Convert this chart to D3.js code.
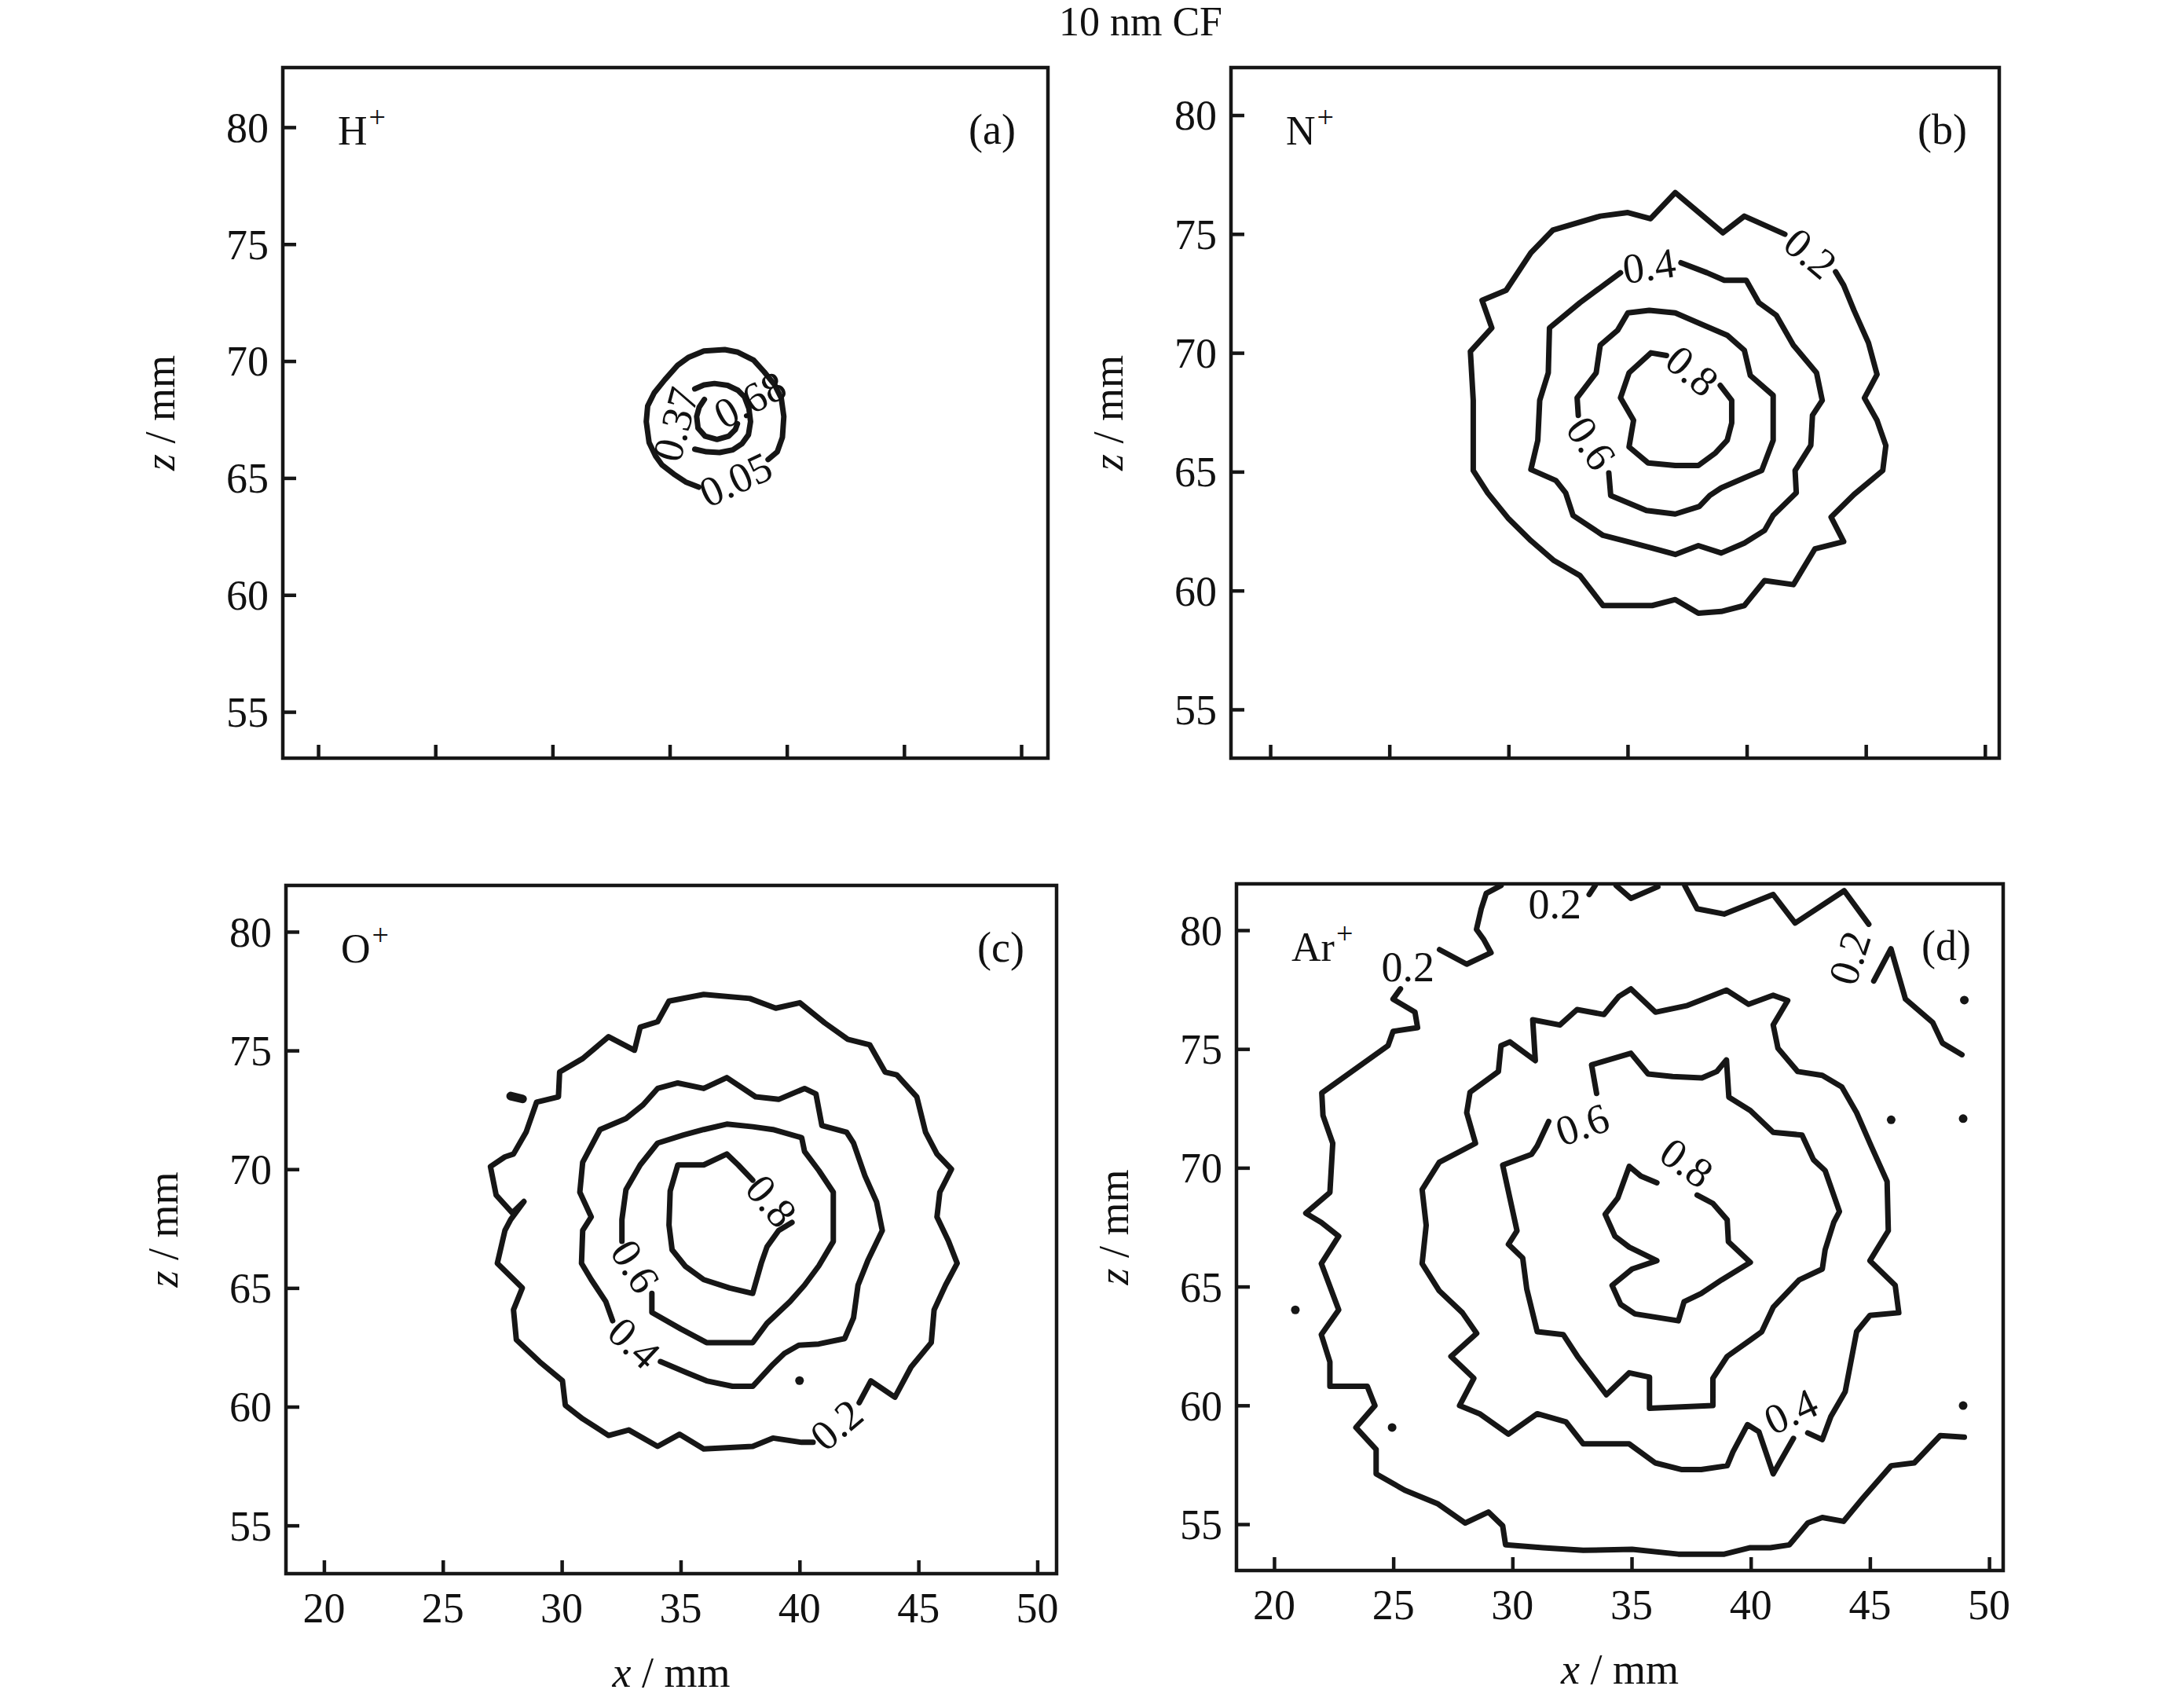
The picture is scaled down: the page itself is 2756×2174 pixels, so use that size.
<!DOCTYPE html>
<html><head><meta charset="utf-8">
<script src="https://cdn.jsdelivr.net/npm/d3@7"></script>
<style>
body{margin:0;background:#fff}
text{font-family:"Liberation Serif","Times New Roman",serif;fill:#111}
</style>
</head><body>
<svg id="chart" width="2756" height="2174" xmlns="http://www.w3.org/2000/svg"></svg>
<script>
// ---------------- data ----------------
const title = "10 nm CF";
const xTicks = [20, 25, 30, 35, 40, 45, 50];
const yTicks = [55, 60, 65, 70, 75, 80];
const ions = [["H", "(a)"], ["N", "(b)"], ["O", "(c)"], ["Ar", "(d)"]];

// (a) H+
const H_005 = [[39.20,65.79],[39.59,66.12],[39.81,66.74],[39.87,67.63],[39.76,68.42],[39.48,68.98],[39.03,69.54],[38.58,70.04],[37.91,70.38],[37.35,70.49],[36.46,70.43],[35.79,70.15],[35.34,69.82],[34.79,69.20],[34.34,68.64],[34.06,68.08],[34.00,67.41],[34.12,66.52],[34.39,65.95],[34.67,65.56],[35.17,65.17],[35.68,64.83],[36.24,64.61]];
const H_037 = [[36.07,68.81],[36.46,68.98],[36.91,69.04],[37.47,68.96],[37.91,68.75],[38.19,68.47],[38.38,67.97],[38.45,67.41],[38.36,66.85],[38.08,66.46],[37.69,66.20],[37.13,66.09],[36.57,66.12],[36.07,66.23]];
const H_068 = [[36.48,68.36],[36.26,68.03],[36.15,67.63],[36.21,67.13],[36.51,66.79],[37.02,66.65],[37.52,66.79],[37.80,67.07],[37.89,67.32]];
const H_labels = [["0.05",37.80,64.95,-25],["0.37",35.23,67.30,-75],["0.68",38.41,68.36,-28]];

// (b) N+
const N_02 = [[41.6,74.99],[39.90,75.75],[39.0,75.05],[37.0,76.74],[35.96,75.64],[35.01,75.9],[33.85,75.75],[31.86,75.16],[30.94,74.21],[29.9,72.63],[28.89,72.21],[29.30,71.05],[28.40,70.06],[28.52,68.0],[28.52,65.05],[29.13,64.1],[29.98,63.05],[30.94,62.1],[31.91,61.26],[33.0,60.63],[33.97,59.37],[36.03,59.37],[37.0,59.62],[37.97,59.05],[38.93,59.12],[39.9,59.37],[40.75,60.42],[41.96,60.25],[42.86,61.75],[44.07,62.06],[43.54,63.09],[44.5,64.04],[45.71,65.05],[45.84,66.1],[45.47,67.16],[44.94,68.1],[45.47,69.09],[45.11,70.42],[44.5,71.79],[44.07,72.84],[43.73,73.41]];
const N_04 = [[37.24,73.79],[38.33,73.37],[39.06,73.05],[39.98,73.05],[40.51,72.11],[41.24,71.58],[41.96,70.32],[42.93,69.16],[43.17,68.0],[42.76,67.37],[42.69,66.11],[42.03,65.05],[42.08,64.11],[41.11,63.16],[40.75,62.53],[39.90,62.0],[38.93,61.58],[37.97,61.89],[37.0,61.52],[36.03,61.79],[35.06,62.04],[33.97,62.32],[32.71,63.16],[32.40,64.11],[31.99,64.63],[30.94,65.09],[31.23,66.32],[31.31,68.0],[31.67,69.16],[31.72,71.05],[33.0,72.11],[33.85,72.74],[34.70,73.37]];
const N_06 = [[34.21,64.95],[34.29,64.0],[35.79,63.37],[37.0,63.22],[38.01,63.54],[38.45,64.0],[38.93,64.32],[39.90,64.74],[40.63,65.05],[41.11,66.32],[41.11,68.21],[40.15,69.05],[39.90,70.11],[39.18,70.74],[37.97,71.26],[37.0,71.68],[35.91,71.79],[35.01,71.68],[34.58,70.95],[33.85,70.32],[33.68,69.16],[32.88,68.11],[32.93,67.37]];
const N_08 = [[38.89,68.63],[39.37,68.0],[39.37,67.05],[39.18,66.32],[38.69,65.79],[37.97,65.26],[37.0,65.26],[35.86,65.37],[35.06,66.04],[35.25,67.16],[34.70,68.11],[35.06,69.16],[35.98,70.0],[36.63,69.89]];
const N_labels = [["0.2",42.69,74.2,40],["0.4",35.9,73.68,-8],["0.6",33.49,66.21,56],["0.8",37.72,69.26,40]];

// (c) O+
const O_02 = [[42.51,60.17],[43.0,61.09],[44.01,60.40],[44.69,61.67],[45.54,62.70],[45.66,64.08],[46.14,65.12],[46.63,66.04],[46.27,66.96],[45.78,67.99],[45.90,69.03],[46.39,70.0],[45.78,70.64],[45.30,71.56],[44.93,73.05],[44.09,73.97],[43.60,74.09],[42.95,75.24],[42.03,75.47],[41.06,76.16],[40.01,77.01],[39.0,76.78],[37.91,77.19],[35.97,77.36],[34.51,77.08],[34.03,76.21],[33.30,75.98],[33.06,75.01],[31.97,75.58],[30.88,74.66],[29.91,74.09],[29.86,73.05],[28.94,72.82],[28.50,71.56],[27.97,70.64],[27.61,70.52],[27.0,70.11],[27.24,68.91],[27.92,68.16],[28.41,68.64],[27.85,67.88],[27.61,67.42],[27.29,66.04],[28.34,65.0],[27.97,64.08],[28.09,62.82],[29.06,61.90],[30.03,61.09],[30.15,60.06],[30.88,59.49],[31.97,58.79],[32.82,59.02],[34.03,58.33],[34.95,58.84],[35.97,58.22],[38.03,58.33],[38.88,58.68],[40.09,58.50],[40.57,58.50]];
const O_02_bits = [[[27.85,73.08],[28.35,72.96]]];
const O_04 = [[34.15,61.9],[35.24,61.44],[36.09,61.09],[37.18,60.86],[38.03,60.86],[38.88,61.78],[39.36,62.24],[39.97,62.59],[40.81,62.64],[41.90,62.87],[42.27,63.74],[42.46,65.12],[42.87,66.15],[43.48,67.42],[43.24,68.62],[42.75,69.72],[42.27,71.10],[41.98,71.56],[40.94,71.84],[40.69,73.17],[40.21,73.40],[39.12,72.94],[38.15,73.05],[36.94,73.86],[35.97,73.40],[34.88,73.63],[34.03,73.40],[33.42,72.71],[32.70,72.13],[31.61,71.67],[30.88,70.29],[30.76,69.03],[31.24,67.99],[30.88,67.42],[30.83,66.04],[31.24,65.35],[31.85,64.43],[32.14,63.62]];
const O_06 = [[33.79,64.77],[33.79,63.97],[35.0,63.28],[36.09,62.70],[38.03,62.70],[38.63,63.51],[39.60,64.43],[40.21,65.12],[40.81,65.93],[41.42,66.96],[41.42,69.03],[40.81,69.95],[40.21,70.75],[40.09,71.33],[38.88,71.67],[38.03,71.79],[36.94,71.90],[35.97,71.67],[35.12,71.44],[34.03,71.10],[33.30,70.18],[32.70,69.14],[32.53,67.88],[32.53,66.96]];
const O_08 = [[39.68,67.76],[39.12,67.42],[38.63,66.73],[38.39,66.04],[38.03,64.77],[37.06,65.0],[35.97,65.35],[35.19,65.92],[34.64,66.61],[34.51,67.65],[34.56,69.08],[34.88,70.18],[35.97,70.18],[36.94,70.64],[37.42,70.18],[38.03,69.54]];
const O_dots = [[40.0,61.1]];
const O_labels = [["0.2",41.54,59.25,-40],["0.4",33.06,62.70,43],["0.6",33.11,65.92,58],["0.8",38.83,68.68,50]];

// (d) Ar+
const Ar_02a = [[29.52,81.88],[28.90,81.55],[28.69,80.90],[28.49,80.03],[28.80,79.60],[29.10,79.05],[28.08,78.57],[26.94,79.18]];
const Ar_02b = [[25.30,77.53],[24.99,77.10],[25.91,76.55],[26.02,75.90],[24.99,75.74],[24.78,75.14],[22.0,73.15],[22.05,72.2],[22.46,71.03],[22.34,68.96],[21.33,68.09],[21.98,67.70],[22.71,67.12],[21.98,65.97],[22.71,64.02],[21.98,62.98],[22.34,61.83],[22.34,60.80],[23.91,60.80],[24.23,59.99],[23.43,59.07],[24.28,58.15],[24.28,57.12],[25.48,56.43],[26.88,55.85],[28.02,55.05],[28.99,55.51],[29.59,54.93],[29.71,54.13],[31.28,54.01],[32.97,53.90],[35.02,53.94],[36.96,53.74],[38.89,53.74],[39.98,54.01],[40.82,54.01],[41.62,54.13],[42.39,55.05],[43.0,55.28],[43.89,55.12],[44.69,56.08],[45.89,57.46],[46.86,57.58],[47.95,58.73],[48.96,58.66]];
const Ar_02c = [[33.22,81.50],[33.47,81.88]];
const Ar_02d = [[34.35,81.88],[34.97,81.34],[36.10,81.83]];
const Ar_02e = [[37.23,81.88],[37.75,80.90],[38.88,80.68],[40.94,81.50],[41.86,80.30],[43.92,81.66],[44.95,80.25]];
const Ar_02f = [[45.16,77.86],[45.88,79.22],[46.49,77.10],[47.63,76.12],[48.04,75.25],[48.86,74.76]];
const Ar_04 = [[41.79,58.61],[40.94,57.12],[40.34,58.89],[39.86,59.19],[39.25,58.04],[39.01,57.46],[37.92,57.30],[37.08,57.30],[35.99,57.58],[34.90,58.38],[32.97,58.38],[32.25,59.30],[31.04,59.65],[29.83,58.79],[28.62,59.65],[27.78,59.99],[28.38,61.14],[27.42,62.06],[28.50,63.03],[27.90,63.90],[26.93,64.82],[26.21,65.97],[26.38,67.58],[26.21,69.08],[26.93,70.23],[28.45,71.03],[28.08,72.32],[28.22,73.18],[29.41,74.05],[29.52,75.14],[29.89,75.30],[30.96,74.51],[30.85,76.23],[31.99,76.01],[32.71,76.66],[33.84,76.45],[34.46,77.21],[34.97,77.53],[36.0,76.55],[37.34,76.83],[38.98,77.48],[39.91,76.88],[40.94,77.26],[41.55,77.04],[40.94,76.01],[41.14,75.03],[41.97,74.05],[43.0,73.89],[43.82,73.40],[44.44,72.32],[45.05,70.92],[45.72,69.42],[45.77,67.35],[45.0,66.09],[46.06,65.05],[46.21,63.90],[45.0,63.79],[44.44,63.10],[43.96,60.57],[43.36,59.53],[43.0,58.56],[42.39,58.84]];
const Ar_06 = [[33.53,73.13],[33.32,74.33],[34.97,74.82],[35.69,73.95],[36.72,73.84],[37.95,73.78],[38.57,74.05],[38.98,74.54],[39.08,72.97],[39.98,72.41],[40.94,71.49],[42.15,71.38],[42.63,70.34],[43.12,69.88],[43.72,68.16],[43.48,67.70],[43.12,66.55],[43.0,65.74],[42.03,65.28],[40.94,64.13],[40.46,63.10],[39.98,62.75],[39.01,62.06],[38.41,61.14],[38.41,59.99],[35.75,59.88],[35.75,61.19],[34.90,61.37],[33.94,60.45],[32.73,62.06],[32.13,62.98],[31.04,63.10],[30.60,64.90],[30.43,66.20],[29.83,66.78],[30.19,67.35],[29.59,70.11],[30.80,70.57],[31.04,70.92],[31.52,71.95]];
const Ar_08 = [[37.75,68.85],[38.41,68.50],[39.01,67.81],[39.06,66.89],[39.98,66.02],[38.77,65.28],[37.92,64.71],[37.20,64.36],[36.96,63.56],[35.14,63.85],[34.54,64.25],[34.18,65.05],[35.02,65.74],[36.06,66.09],[34.90,66.66],[34.30,67.12],[33.89,68.04],[34.42,68.73],[34.90,70.06],[35.39,69.65],[36.06,69.37]];
const Ar_dots = [[45.89,72.02],[48.91,72.07],[48.96,77.06],[20.89,64.02],[24.95,59.07],[48.91,59.99]];
const Ar_labels = [["0.2",31.78,81.12,0],["0.2",25.61,78.46,0],["0.2",44.13,78.84,-72],["0.4",41.67,59.76,-25],["0.6",32.92,71.84,-19],["0.8",37.32,70.23,36]];

// ---------------- layout ----------------
const panels = [
  {ion: ions[0], frame:[360,1334,86,965],   xd:[18.49,51.14], yd:[53.02,82.55], xLab:false,
   lines:[H_005,H_037,H_068], bits:[], dots:[], labels:H_labels},
  {ion: ions[1], frame:[1567,2545,86,965],  xd:[18.35,50.60], yd:[52.95,82.00], xLab:false,
   lines:[N_02,N_04,N_06,N_08], bits:[], dots:[], labels:N_labels},
  {ion: ions[2], frame:[364,1345,1127,2003], xd:[18.40,50.81], yd:[52.97,81.95], xLab:true,
   lines:[O_02,O_04,O_06,O_08], bits:O_02_bits, dots:O_dots, labels:O_labels},
  {ion: ions[3], frame:[1574,2550,1125,1999], xd:[18.42,50.59], yd:[53.05,81.95], xLab:true,
   lines:[Ar_02a,Ar_02b,Ar_02c,Ar_02d,Ar_02e,Ar_02f,Ar_04,Ar_06,Ar_08], bits:[], dots:Ar_dots, labels:Ar_labels}
];

const svg = d3.select("#chart");
const INK = "#161616";

svg.append("text").attr("x",1452).attr("y",45).attr("text-anchor","middle")
  .style("font-size","52px").text(title);

panels.forEach(p => {
  const [L,R,T,B] = p.frame;
  const x = d3.scaleLinear().domain(p.xd).range([L,R]);
  const y = d3.scaleLinear().domain(p.yd).range([B,T]);
  const g = svg.append("g");

  // contour lines
  const line = d3.line().x(d=>x(d[0])).y(d=>y(d[1]));
  g.selectAll("path.c").data(p.lines).join("path").attr("class","c")
    .attr("d", line).attr("fill","none").attr("stroke",INK)
    .attr("stroke-width",7).attr("stroke-linejoin","round").attr("stroke-linecap","round");
  g.selectAll("path.b").data(p.bits).join("path").attr("class","b")
    .attr("d", line).attr("fill","none").attr("stroke",INK)
    .attr("stroke-width",11).attr("stroke-linecap","round");
  g.selectAll("circle.d").data(p.dots).join("circle").attr("class","d")
    .attr("cx",d=>x(d[0])).attr("cy",d=>y(d[1])).attr("r",5.5).attr("fill",INK);

  // contour labels
  g.selectAll("text.cl").data(p.labels).join("text").attr("class","cl")
    .attr("transform",d=>`translate(${x(d[1])},${y(d[2])}) rotate(${d[3]})`)
    .attr("text-anchor","middle").attr("dy","0.35em")
    .style("font-size","54px").text(d=>d[0]);

  // frame
  g.append("rect").attr("x",L).attr("y",T).attr("width",R-L).attr("height",B-T)
    .attr("fill","none").attr("stroke",INK).attr("stroke-width",4.5);

  // y axis (ticks inward)
  const ya = d3.axisRight(y).tickValues(yTicks).tickSize(17).tickFormat("");
  const yg = g.append("g").attr("transform",`translate(${L},0)`).call(ya);
  yg.select(".domain").remove();
  yg.selectAll("line").attr("stroke",INK).attr("stroke-width",4.5);
  g.selectAll("text.yt").data(yTicks).join("text").attr("class","yt")
    .attr("x",L-18).attr("y",d=>y(d)).attr("dy","0.35em").attr("text-anchor","end")
    .style("font-size","54px").text(d=>d);

  // x axis (ticks inward)
  const xa = d3.axisTop(x).tickValues(xTicks).tickSize(17).tickFormat("");
  const xg = g.append("g").attr("transform",`translate(0,${B})`).call(xa);
  xg.select(".domain").remove();
  xg.selectAll("line").attr("stroke",INK).attr("stroke-width",4.5);
  if (p.xLab) {
    g.selectAll("text.xt").data(xTicks).join("text").attr("class","xt")
      .attr("x",d=>x(d)).attr("y",B+62).attr("text-anchor","middle")
      .style("font-size","54px").text(d=>d);
    const xl = g.append("text").attr("x",(L+R)/2).attr("y",B+144).attr("text-anchor","middle")
      .style("font-size","54px");
    xl.append("tspan").style("font-style","italic").text("x");
    xl.append("tspan").text(" / mm");
  }

  // y label
  const yl = g.append("text").attr("transform",`translate(${L-138},${(T+B)/2}) rotate(-90)`)
    .attr("text-anchor","middle").style("font-size","54px");
  yl.append("tspan").style("font-style","italic").text("z");
  yl.append("tspan").text(" / mm");

  // panel labels
  const il = g.append("text").attr("x",L+70).attr("y",T+98).style("font-size","52px");
  il.append("tspan").text(p.ion[0]);
  il.append("tspan").attr("dx",2).attr("dy",-22).style("font-size","38px").text("+");
  g.append("text").attr("x",R-41).attr("y",T+97).attr("text-anchor","end")
    .style("font-size","54px").text(p.ion[1]);
});
</script>
</body></html>
